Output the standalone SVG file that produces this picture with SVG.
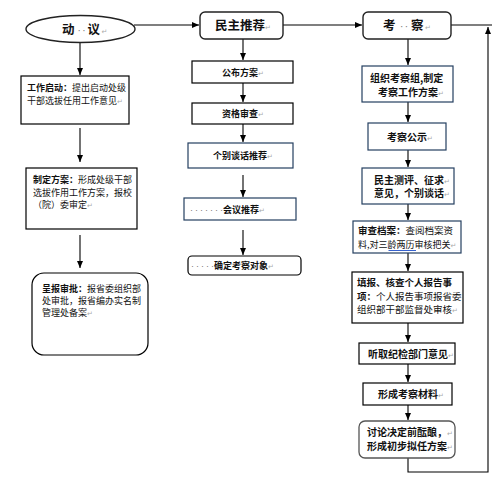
<svg xmlns="http://www.w3.org/2000/svg" width="492" height="481" viewBox="0 0 492 481">
<defs>
<marker id="ah" markerWidth="7" markerHeight="6" refX="7" refY="3" orient="auto" markerUnits="userSpaceOnUse">
<path d="M0,0 L7,3 L0,6 z" fill="#000"/>
</marker>
<style>
.b{fill:#fff;stroke:#000;stroke-width:1.2}
.bb{fill:#fff;stroke:#243f60;stroke-width:1.2}
.rb{fill:#fff;stroke:#222;stroke-width:1.4}
.c{fill:none;stroke:#000;stroke-width:1.1}
.t{font-family:"Noto Sans CJK SC","Noto Sans CJK JP",sans-serif;font-size:9px;fill:#111}
.r{font-size:9.5px}
.m{font-size:10px}
.k{font-weight:bold}
.h{font-size:12.5px;font-weight:bold}
.pm{font-family:"DejaVu Sans",sans-serif;font-size:7px;fill:#aaa;font-weight:normal}
.dt{font-family:"Liberation Sans",sans-serif;fill:#777;font-weight:normal}
</style>
</defs>
<rect width="492" height="481" fill="#fff"/>

<g id="connectors">
<line class="c" x1="134" y1="25" x2="199" y2="25" marker-end="url(#ah)"/>
<line class="c" x1="283" y1="25" x2="362" y2="25" marker-end="url(#ah)"/>
<line class="c" x1="451" y1="25" x2="492" y2="25"/>
<polyline class="c" points="408,458 408,472 488,472 488,27" marker-end="url(#ah)"/>
<line class="c" x1="80" y1="43" x2="80" y2="75" marker-end="url(#ah)"/>
<line class="c" x1="80" y1="128" x2="80" y2="162" marker-end="url(#ah)"/>
<line class="c" x1="80" y1="235" x2="80" y2="268" marker-end="url(#ah)"/>
<line class="c" x1="243" y1="39" x2="243" y2="60" marker-end="url(#ah)"/>
<line class="c" x1="243" y1="83" x2="243" y2="102" marker-end="url(#ah)"/>
<line class="c" x1="243" y1="124" x2="243" y2="142" marker-end="url(#ah)"/>
<line class="c" x1="243" y1="175" x2="243" y2="197" marker-end="url(#ah)"/>
<line class="c" x1="243" y1="230" x2="243" y2="255" marker-end="url(#ah)"/>
<line class="c" x1="408" y1="39" x2="408" y2="65" marker-end="url(#ah)"/>
<line class="c" x1="408" y1="102" x2="408" y2="122" marker-end="url(#ah)"/>
<line class="c" x1="408" y1="150" x2="408" y2="167" marker-end="url(#ah)"/>
<line class="c" x1="408" y1="204" x2="408" y2="220" marker-end="url(#ah)"/>
<line class="c" x1="408" y1="253" x2="408" y2="271" marker-end="url(#ah)"/>
<line class="c" x1="408" y1="323" x2="408" y2="342" marker-end="url(#ah)"/>
<line class="c" x1="408" y1="364" x2="408" y2="382" marker-end="url(#ah)"/>
<line class="c" x1="408" y1="405" x2="408" y2="420" marker-end="url(#ah)"/>
</g>

<g id="n-dongyi">
<ellipse cx="80.5" cy="29" rx="54.5" ry="13.5" class="rb"/>
<text class="t h" y="33.5"><tspan x="62">动</tspan><tspan class="dt" x="77.5" font-size="10" letter-spacing="1.5">··</tspan><tspan x="87.5">议</tspan><tspan class="pm" x="101.5">↵</tspan></text>
</g>

<g id="n-minzhu">
<rect x="200" y="12" width="83" height="27" rx="5" class="rb"/>
<text class="t h" x="215" y="30">民主推荐<tspan class="pm">↵</tspan></text>
</g>

<g id="n-kaocha">
<rect x="363" y="12" width="88" height="27" rx="5" class="rb"/>
<text class="t h" y="30"><tspan x="383">考</tspan><tspan class="dt" x="400" font-size="10" letter-spacing="1.5">··</tspan><tspan x="411">察</tspan><tspan class="pm" x="425">↵</tspan></text>
</g>

<g id="n-l1">
<rect x="21" y="76" width="108" height="48" class="b"/>
<text class="t" x="27" y="91"><tspan class="k">工作启动：</tspan>提出启动处级</text>
<text class="t" x="27" y="103.5">干部选拔任用工作意见<tspan class="pm">↵</tspan></text>
</g>

<g id="n-l2">
<rect x="26" y="168" width="111" height="61" class="b"/>
<text class="t" x="33" y="183"><tspan class="k">制定方案：</tspan>形成处级干部</text>
<text class="t" x="33" y="195.5">选拔作用工作方案，报校</text>
<text class="t" x="33" y="208">（院）委审定<tspan class="pm">↵</tspan></text>
</g>

<g id="n-l3">
<rect x="32" y="273" width="116" height="82" rx="12" class="b"/>
<text class="t" x="42" y="292"><tspan class="k">呈报审批：</tspan>报省委组织部</text>
<text class="t" x="42" y="304">处审批，报省编办实名制</text>
<text class="t" x="42" y="316">管理处备案<tspan class="pm">↵</tspan></text>
</g>

<g id="n-m1">
<rect x="192" y="61" width="101" height="22" class="b"/>
<text class="t k" x="222" y="75.5">公布方案<tspan class="pm">↵</tspan></text>
</g>

<g id="n-m2">
<rect x="192" y="103" width="101" height="21" class="b"/>
<text class="t k" x="222" y="117">资格审查<tspan class="pm">↵</tspan></text>
</g>

<g id="n-m3">
<rect x="188" y="143" width="105" height="25" class="bb"/>
<text class="t k" x="213" y="159">个别谈话推荐<tspan class="pm">↵</tspan></text>
</g>

<g id="n-m4">
<rect x="184" y="198" width="112" height="22" class="bb"/>
<text class="t k" x="190" y="212.5"><tspan class="dt" letter-spacing="2">·······</tspan><tspan x="223">会议推荐</tspan><tspan class="pm">↵</tspan></text>
</g>

<g id="n-m5">
<rect x="188" y="256" width="113" height="19" rx="4" class="b"/>
<text class="t k" x="191" y="269"><tspan class="dt" letter-spacing="2">·····</tspan><tspan x="214">确定考察对象</tspan><tspan class="pm">↵</tspan></text>
</g>

<g id="n-r1">
<rect x="362" y="66" width="91" height="36" class="bb"/>
<text class="t m k" x="370" y="82">组织考察组,制定</text>
<text class="t m k" x="378" y="95.5">考察工作方案<tspan class="pm">↵</tspan></text>
</g>

<g id="n-r2">
<rect x="368" y="123" width="78" height="27" class="bb"/>
<text class="t m k" x="387" y="140.5">考察公示<tspan class="pm">↵</tspan></text>
</g>

<g id="n-r3">
<rect x="362" y="168" width="92" height="36" class="bb"/>
<text class="t m k" x="374" y="183.5">民主测评、征求<tspan class="pm">↵</tspan></text>
<text class="t m k" x="374" y="197">意见，个别谈话<tspan class="pm">↵</tspan></text>
</g>

<g id="n-r4">
<rect x="353" y="221" width="108" height="32" class="bb"/>
<text class="t r" x="358" y="234"><tspan class="k">审查档案：</tspan>查阅档案资</text>
<text class="t" x="358" y="248" font-size="9.2">料,对三龄两历审核把关<tspan class="pm">↵</tspan></text>
<line x1="388.5" y1="250.5" x2="416" y2="250.5" stroke="#2050c8" stroke-width="0.9"/>
</g>

<g id="n-r5">
<rect x="352" y="272" width="111" height="51" class="b"/>
<text class="t r k" x="357" y="286">填报、核查个人报告事</text>
<text class="t r" x="357" y="299.5"><tspan class="k">项：</tspan>个人报告事项报省委</text>
<text class="t r" x="357" y="313">组织部干部监督处审核<tspan class="pm">↵</tspan></text>
</g>

<g id="n-r6">
<rect x="359" y="343" width="96" height="21" class="b"/>
<text class="t m k" x="368" y="357.5">听取纪检部门意见<tspan class="pm">↵</tspan></text>
</g>

<g id="n-r7">
<rect x="363" y="383" width="89" height="22" class="b"/>
<text class="t m k" x="378" y="397.5">形成考察材料<tspan class="pm">↵</tspan></text>
</g>

<g id="n-r8">
<rect x="359" y="421" width="96" height="37" rx="6" fill="#fff" stroke="#555" stroke-width="1.3"/>
<text class="t m k" x="367" y="436">讨论决定前酝酿，<tspan class="pm">↵</tspan></text>
<text class="t m k" x="367" y="450">形成初步拟任方案<tspan class="pm">↵</tspan></text>
</g>
</svg>
